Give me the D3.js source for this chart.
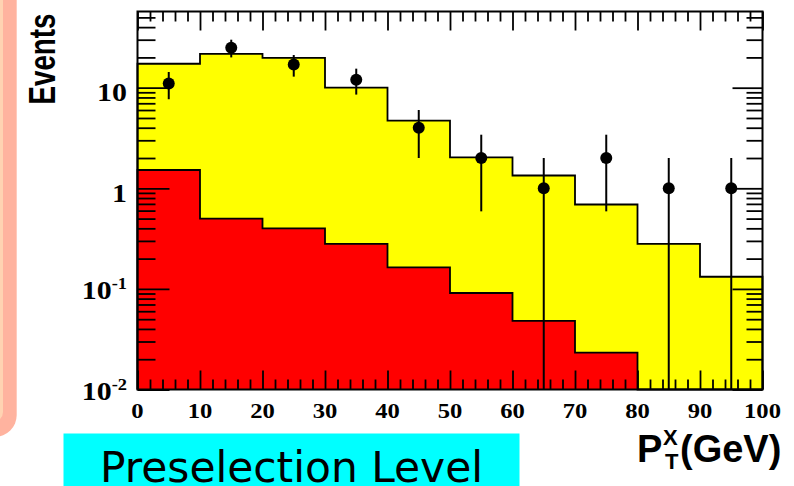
<!DOCTYPE html>
<html>
<head>
<meta charset="utf-8">
<script src="https://cdn.jsdelivr.net/npm/d3@7"></script>
<style>
  html, body { margin: 0; padding: 0; background: #ffffff; }
  svg { display: block; }
</style>
</head>
<body>
<svg id="chart" width="794" height="486"></svg>
<script>
// Histogram bins in P_T^X (GeV)
const binEdges = [0, 10, 20, 30, 40, 50, 60, 70, 80, 90, 100];
// Total expected background (yellow) per bin
const totalBackground = [17.3, 21.7, 19.8, 10.0, 4.7, 2.03, 1.34, 0.69, 0.28, 0.132];
// Second background component (red) per bin
const redBackground = [1.52, 0.50, 0.40, 0.28, 0.164, 0.091, 0.048, 0.0233, 0, 0];
// Observed events per bin and their errors
const dataCenters = [5, 15, 25, 35, 45, 55, 65, 75, 85, 95];
const dataCounts = [11, 25, 17, 12, 4, 2, 1, 2, 1, 1];
const dataErrors = [3.32, 5.0, 4.12, 3.46, 2.0, 1.41, 1.0, 1.41, 1.0, 1.0];
// Axis labels
const xTickValues = [0, 10, 20, 30, 40, 50, 60, 70, 80, 90, 100];
const yTickValues = [10, 1, 0.1, 0.01];
const yTickBases = ["10", "1", "10", "10"];
const yTickExponents = ["", "", "-1", "-2"];

(function () {
const svg = d3.select("#chart");

// Frame geometry
const fLeft = 137.5, fRight = 762.5, fTop = 11.5, fBottom = 389.5;

const x = d3.scaleLinear().domain([0, 100]).range([fLeft, fRight]);
const y = d3.scaleLog().domain([0.01, 57.2]).range([fBottom, fTop]);
const yPos = v => (v > 0 ? Math.max(fTop, Math.min(fBottom, y(v))) : fBottom);

// Side panel decoration on the left
svg.append("rect")
  .attr("x", -40).attr("y", -40).attr("width", 56.7).attr("height", 477)
  .attr("rx", 22).attr("fill", "#ffb39f");
svg.append("rect")
  .attr("x", -40).attr("y", -40).attr("width", 43).attr("height", 462)
  .attr("rx", 10).attr("fill", "#ffd3b2");

// Step outline points for a histogram
function stepPoints(values) {
  const pts = [[x(binEdges[0]), fBottom]];
  values.forEach((v, i) => {
    pts.push([x(binEdges[i]), yPos(v)]);
    pts.push([x(binEdges[i + 1]), yPos(v)]);
  });
  pts.push([x(binEdges[binEdges.length - 1]), fBottom]);
  return pts;
}
const line = d3.line();

function drawHist(values, fill) {
  const pts = stepPoints(values);
  svg.append("path").attr("d", line(pts) + "Z").attr("fill", fill).attr("stroke", "none");
  svg.append("path").attr("d", line(pts)).attr("fill", "none")
    .attr("stroke", "#000").attr("stroke-width", 1.8).attr("stroke-linejoin", "miter");
}
drawHist(totalBackground, "#ffff00");
drawHist(redBackground, "#ff0000");

// Tick marks on all four sides
const xMinor = d3.range(2, 100, 2).filter(v => v % 10 !== 0);
const yMinor = [];
[-2, -1, 0, 1].forEach(d => {
  for (let k = 2; k <= 9; k++) {
    const v = k * Math.pow(10, d);
    if (v < 57.2) yMinor.push(v);
  }
});

function ticks(axis, transform) {
  const g = svg.append("g").attr("transform", transform).call(axis);
  g.select(".domain").remove();
  g.selectAll("text").remove();
  g.selectAll("line").attr("stroke", "#000").attr("stroke-width", 1.8);
}
ticks(d3.axisBottom(x).tickValues(xTickValues).tickSize(-19), `translate(0,${fBottom})`);
ticks(d3.axisBottom(x).tickValues(xMinor).tickSize(-10), `translate(0,${fBottom})`);
ticks(d3.axisTop(x).tickValues(xTickValues).tickSize(-19), `translate(0,${fTop})`);
ticks(d3.axisTop(x).tickValues(xMinor).tickSize(-10), `translate(0,${fTop})`);
ticks(d3.axisLeft(y).tickValues(yTickValues).tickSize(-32), `translate(${fLeft},0)`);
ticks(d3.axisLeft(y).tickValues(yMinor).tickSize(-18), `translate(${fLeft},0)`);
ticks(d3.axisRight(y).tickValues(yTickValues).tickSize(-30), `translate(${fRight},0)`);
ticks(d3.axisRight(y).tickValues(yMinor).tickSize(-16), `translate(${fRight},0)`);

// Frame
svg.append("rect")
  .attr("x", fLeft).attr("y", fTop).attr("width", fRight - fLeft).attr("height", fBottom - fTop)
  .attr("fill", "none").attr("stroke", "#000").attr("stroke-width", 2);

// Data points with error bars
const pts = svg.append("g");
dataCounts.forEach((n, i) => {
  const cx = x(dataCenters[i]);
  pts.append("line")
    .attr("x1", cx).attr("x2", cx)
    .attr("y1", yPos(n + dataErrors[i])).attr("y2", yPos(n - dataErrors[i]))
    .attr("stroke", "#000").attr("stroke-width", 2);
  pts.append("circle")
    .attr("cx", cx).attr("cy", y(n)).attr("r", 6).attr("fill", "#000");
});

// Tick labels (bold serif, slightly widened)
const serif = "'Liberation Serif', 'Times New Roman', serif";
xTickValues.forEach(v => {
  svg.append("g").attr("transform", `translate(${x(v)},418) scale(1.2,1)`)
    .append("text")
    .attr("text-anchor", "middle")
    .attr("font-family", serif).attr("font-weight", "bold").attr("font-size", 20.5)
    .attr("fill", "#000")
    .text(v);
});
yTickValues.forEach((v, i) => {
  const hasExp = yTickExponents[i] !== "";
  const base = y(v) + (hasExp ? 10 : 13.5);
  const t = svg.append("g").attr("transform", `translate(127,${base}) scale(1.15,1)`)
    .append("text")
    .attr("text-anchor", "end")
    .attr("font-family", serif).attr("font-weight", "bold").attr("font-size", 26)
    .attr("fill", "#000");
  t.append("tspan").text(yTickBases[i]);
  if (hasExp) {
    t.append("tspan").attr("font-size", 16).attr("dy", -10).text(yTickExponents[i]);
  }
});

// Axis titles
const sans = "'Liberation Sans', Arial, Helvetica, sans-serif";
svg.append("text")
  .attr("transform", "translate(55,59) rotate(-90)")
  .attr("text-anchor", "middle")
  .attr("font-family", sans).attr("font-weight", "bold").attr("font-size", 36)
  .attr("textLength", 91).attr("lengthAdjust", "spacingAndGlyphs")
  .attr("fill", "#000")
  .text("Events");

const xt = svg.append("g").attr("font-family", sans).attr("font-weight", "bold").attr("fill", "#000");
xt.append("text").attr("x", 637).attr("y", 462).attr("font-size", 38).text("P");
xt.append("text").attr("x", 663).attr("y", 445).attr("font-size", 22).text("X");
xt.append("text").attr("x", 665).attr("y", 469).attr("font-size", 22).text("T");
xt.append("text").attr("x", 680).attr("y", 462).attr("font-size", 38).text("(GeV)");

// Caption box
svg.append("rect")
  .attr("x", 63.5).attr("y", 433.5).attr("width", 456).attr("height", 60)
  .attr("fill", "#00ffff");
svg.append("text")
  .attr("x", 100).attr("y", 482)
  .attr("font-family", "'DejaVu Sans', sans-serif").attr("font-size", 42)
  .attr("textLength", 383).attr("lengthAdjust", "spacingAndGlyphs")
  .attr("fill", "#000")
  .text("Preselection Level");
})();
</script>
</body>
</html>
